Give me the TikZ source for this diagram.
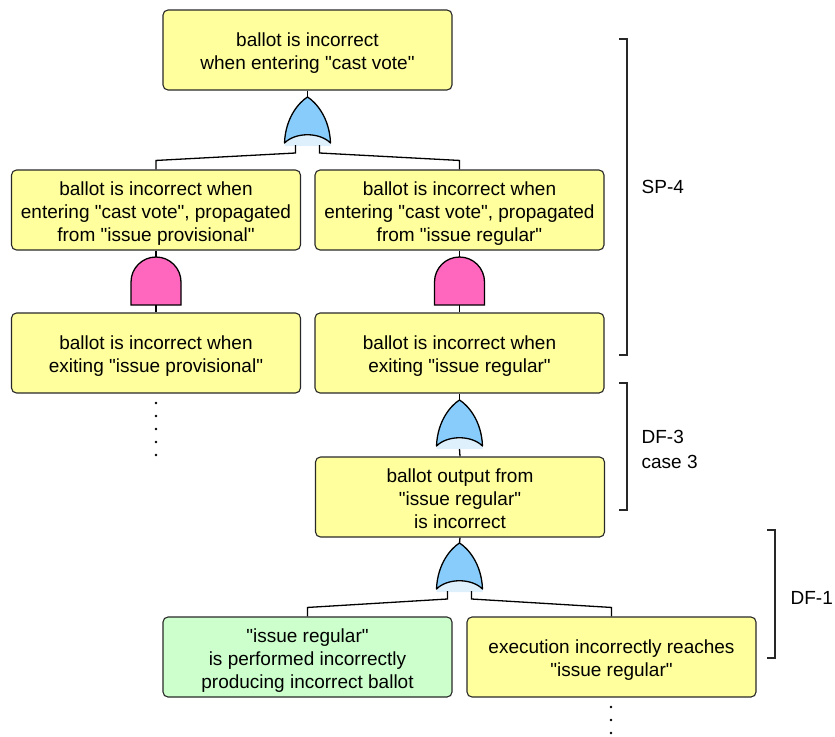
\documentclass[tikz,border=0pt]{standalone}
\usepackage{fontspec}
\setmainfont{Liberation Sans}[Ligatures=TeXOff]
\usetikzlibrary{calc}

\definecolor{boxyellow}{RGB}{255,255,158}
\definecolor{boxgreen}{RGB}{204,255,204}
\definecolor{orblue}{RGB}{135,204,250}
\definecolor{orpale}{RGB}{222,240,252}
\definecolor{andpink}{RGB}{255,102,190}
\definecolor{edge}{RGB}{40,40,40}

% event text, set a little below the centre of the box
\newcommand\evtext[1]{\raisebox{-3.5pt}[\height][\depth]{\begin{tabular}{@{}c@{}}#1\end{tabular}}}

\tikzset{
  event/.style={draw=edge, line width=1.1pt, rounded corners=5pt, fill=boxyellow,
    minimum width=289pt, minimum height=80pt, inner sep=0pt,
    font=\fontsize{19}{23}\selectfont},
  basic/.style={event, fill=boxgreen},
  bracket/.style={draw=edge, line width=1.3pt},
  tag/.style={anchor=west, align=left, inner sep=0pt, font=\fontsize{19}{25}\selectfont},
  orgate/.pic={
    \fill[orpale] (-23,46) .. controls (-12,36) and (12,36) .. (23,46) -- (23,49) -- (-23,49) -- cycle;
    \draw[fill=orblue, line width=1.3pt, line join=round] (-23,46) .. controls (-22,20) and (-8,5) .. (0,0)
      .. controls (8,5) and (22,20) .. (23,46) .. controls (12,35) and (-12,35) .. (-23,46) -- cycle;
    \coordinate (-top) at (0,0);
    \coordinate (-m) at (0,49);
    \coordinate (-l) at (-12,48);
    \coordinate (-r) at (12,48);
    \coordinate (-lb) at (-12,56);
    \coordinate (-rb) at (12,56);
  },
  andgate/.pic={
    \draw[fill=andpink, line width=1.3pt] (-25,48) -- (-25,25) arc[start angle=180, end angle=360, radius=25] -- (25,48) -- cycle;
    \coordinate (-top) at (0,0);
    \coordinate (-bot) at (0,48);
  }
}

\begin{document}
\begin{tikzpicture}[x=1pt, y=-1pt, line width=1.3pt]
  \useasboundingbox (0,0) rectangle (835,736);

  % events
  \node[event] (top) at (307.5,50) {\evtext{ballot is incorrect\\when entering "cast vote"}};
  \node[event] (provin) at (156,210) {\evtext{ballot is incorrect when\\entering "cast vote", propagated\\from "issue provisional"}};
  \node[event] (regin) at (459.5,210) {\evtext{ballot is incorrect when\\entering "cast vote", propagated\\from "issue regular"}};
  \node[event] (provout) at (156,353) {\evtext{ballot is incorrect when\\exiting "issue provisional"}};
  \node[event] (regout) at (459.5,353) {\evtext{ballot is incorrect when\\exiting "issue regular"}};
  \node[event] (output) at (460,497) {\evtext{ballot output from\\"issue regular"\\is incorrect}};
  \node[basic] (perform) at (307.5,657) {\evtext{"issue regular"\\is performed incorrectly\\producing incorrect ballot}};
  \node[event] (reach) at (611.5,657) {\evtext{execution incorrectly reaches\\"issue regular"}};

  % gates
  \pic (g1) at (307.5,97) {orgate};
  \pic (a1) at (156,257) {andgate};
  \pic (a2) at (459.5,257) {andgate};
  \pic (g2) at (459.5,400) {orgate};
  \pic (g3) at (459.5,543) {orgate};

  % connectors
  \draw (top.south) -- (g1-top);
  \draw (g1-l) -- (g1-lb) -- ($(provin.north)+(0,-9)$) -- (provin.north);
  \draw (g1-r) -- (g1-rb) -- ($(regin.north)+(0,-9)$) -- (regin.north);
  \draw (provin.south) -- (a1-top);
  \draw (a1-bot) -- (provout.north);
  \draw (regin.south) -- (a2-top);
  \draw (a2-bot) -- (regout.north);
  \draw (regout.south) -- (g2-top);
  \draw (g2-m) -- (output.north);
  \draw (output.south) -- (g3-top);
  \draw (g3-l) -- (g3-lb) -- ($(perform.north)+(0,-9)$) -- (perform.north);
  \draw (g3-r) -- (g3-rb) -- ($(reach.north)+(0,-9)$) -- (reach.north);

  % elided branches
  \foreach \y in {403,416,429,442,455}
    \fill (156,\y) circle (1.4pt);
  \foreach \y in {707,720,733}
    \fill (611,\y) circle (1.4pt);

  % brackets
  \draw[bracket] (619,39) -- (627,39) -- (627,355) -- (619,355);
  \draw[bracket] (619,383) -- (627,383) -- (627,510) -- (619,510);
  \draw[bracket] (767,530) -- (775,530) -- (775,658) -- (767,658);
  \node[tag] (sp4) at (641,187) {SP-4};
  \node[tag] (df3) at (641,449) {DF-3\\case 3};
  \node[tag] (df1) at (790,598) {DF-1};
\end{tikzpicture}
\end{document}
